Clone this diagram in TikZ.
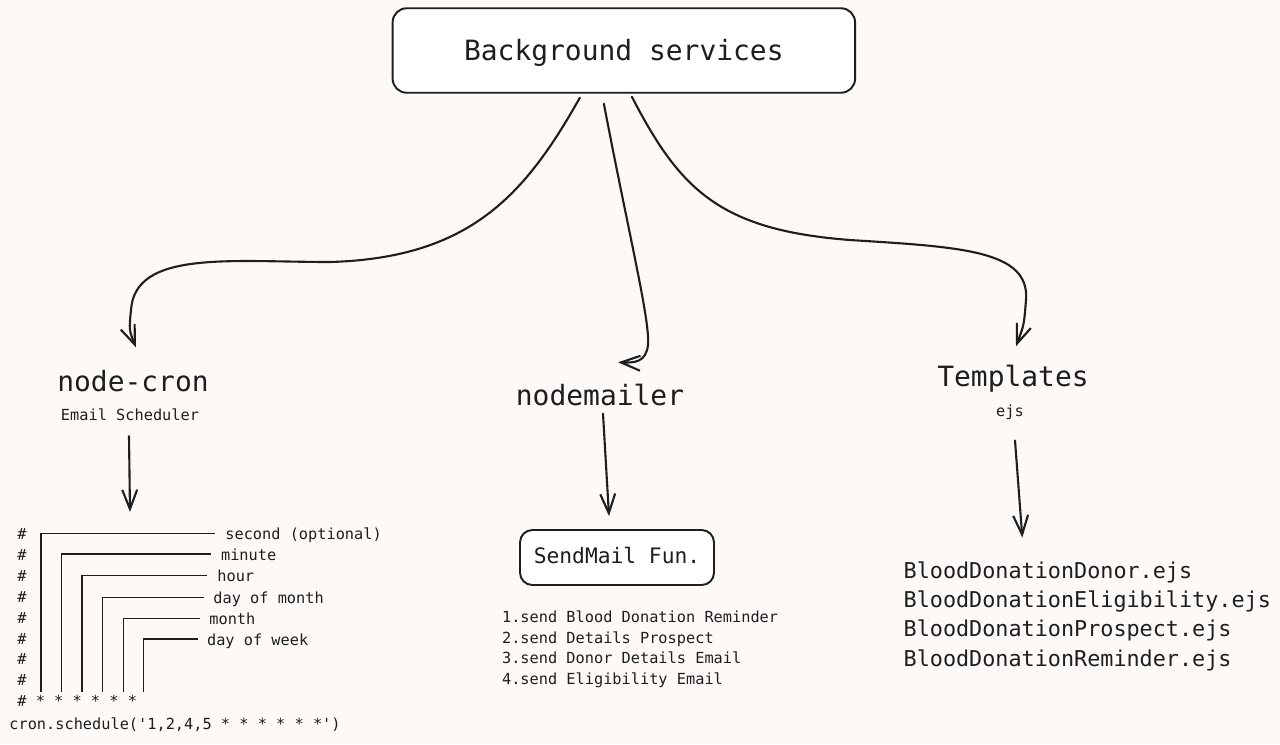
\documentclass[tikz,border=0pt]{standalone}
\usepackage{fontspec}
\setmonofont{DejaVu Sans Mono}
\usepackage{tikz}
\usetikzlibrary{arrows.meta, calc}
\usepackage{xcolor}
\definecolor{paper}{RGB}{253,249,247}
\definecolor{ink}{RGB}{30,30,30}
\tikzstyle{titlebox} = [rectangle, rounded corners=8pt, minimum width=9.25cm, minimum height=1.69cm, draw=ink, line width=1.1pt, fill=white, text=ink, text depth=0.1em, font=\ttfamily\fontsize{15.9}{19}\selectfont]
\tikzstyle{funcbox} = [rectangle, rounded corners=7pt, minimum width=3.88cm, minimum height=1.1cm, draw=ink, line width=1.1pt, fill=white, text=ink, text depth=0.2em, font=\ttfamily\fontsize{12.1}{15}\selectfont]
\tikzstyle{bigtext} = [inner sep=0pt, text=ink, font=\ttfamily\fontsize{15.9}{19}\selectfont]
\tikzstyle{smalltext} = [inner sep=0pt, text=ink, align=left, font=\ttfamily\fontsize{8.7}{11.9}\selectfont]
\tikzstyle{filetext} = [inner sep=0pt, text=ink, align=left, font=\ttfamily\fontsize{12.4}{16.6}\selectfont]
\tikzstyle{cronline} = [draw=ink, line width=0.7pt]
\tikzstyle{arrow} = [draw=ink, line width=1.2pt, line cap=round, -{Straight Barb[length=11pt,width=8.5pt]}]

\begin{document}
\begin{tikzpicture}[x=0.02cm, y=-0.02cm]

\fill [paper] (0,0) rectangle (1280,744);
\useasboundingbox (0,0) rectangle (1280,744);

% Nodes
\node (bg) [titlebox] at (623.85,50.5) {Background services};
\node (cron) [bigtext, anchor=base] at (133,391) {node-cron};
\node (sched) [smalltext, anchor=base] at (130,420.7) {Email Scheduler};
\node (mailer) [bigtext, anchor=base] at (600,405) {nodemailer};
\node (tmpl) [bigtext, anchor=base] at (1013,386) {Templates};
\node (ejs) [smalltext, anchor=base] at (1010,416) {ejs};
\node (sendmail) [funcbox] at (617,557.5) {SendMail Fun.};
\node (mails) [smalltext, anchor=north west] at (501.7,610.1) {1.send Blood Donation Reminder\\2.send Details Prospect\\3.send Donor Details Email\\4.send Eligibility Email};
\node (files) [filetext, anchor=north west] at (903.3,561.5) {BloodDonationDonor.ejs\\BloodDonationEligibility.ejs\\BloodDonationProspect.ejs\\BloodDonationReminder.ejs};

% Cron field diagram
\coordinate (crontop) at (130,512);
\node (hashes) [smalltext, anchor=north west] at (17,528.2) {\#\\\#\\\#\\\#\\\#\\\#\\\#\\\#\\\# * * * * * *};
\node (schedule) [smalltext, anchor=base west] at (9,729) {cron.schedule('1,2,4,5 * * * * * *')};
\node (sec) [smalltext, anchor=base west] at (225,539.3) {second (optional)};
\node (min) [smalltext, anchor=base west] at (220.7,560) {minute};
\node (hr) [smalltext, anchor=base west] at (217,581.7) {hour};
\node (dom) [smalltext, anchor=base west] at (213,603.3) {day of month};
\node (mon) [smalltext, anchor=base west] at (209,624.3) {month};
\node (dow) [smalltext, anchor=base west] at (206.7,645) {day of week};
\draw [cronline] (41,692) |- (215,533.3);
\draw [cronline] (61.3,692) |- (211,554);
\draw [cronline] (82,692) |- (206.7,575.7);
\draw [cronline] (102.3,692) |- (204,597.3);
\draw [cronline] (123.3,692) |- (200,618.3);
\draw [cronline] (143.7,692) |- (198,639);

% Arrows
\draw [arrow] ($(bg.south)+(-44,4)$) .. controls (525,195) and (470,258) .. (330,262) .. controls (230,262) and (135,250) .. (131,310) .. controls (129,330) .. ($(cron.north)+(3,-22)$);
\draw [arrow] ($(bg.south)+(-20,10)$) .. controls (630,240) and (650,320) .. (648,345) .. controls (646,362) and (635,363) .. ($(mailer.north)+(18,-21)$);
\draw [arrow] ($(bg.south)+(8,3)$) .. controls (680,190) and (720,230) .. (850,240) .. controls (960,247) and (1030,250) .. (1026,300) .. controls (1024,325) .. ($(tmpl.north)+(3,-18)$);
\draw [arrow] ($(sched.south)+(-1,15)$) -- (crontop);
\draw [arrow] ($(mailer.south)+(3,8)$) -- ($(sendmail.north)+(-8,-13)$);
\draw [arrow] ($(ejs.south)+(5,21)$) -- ($(files.north west)+(119,-24)$);

\end{tikzpicture}
\end{document}
